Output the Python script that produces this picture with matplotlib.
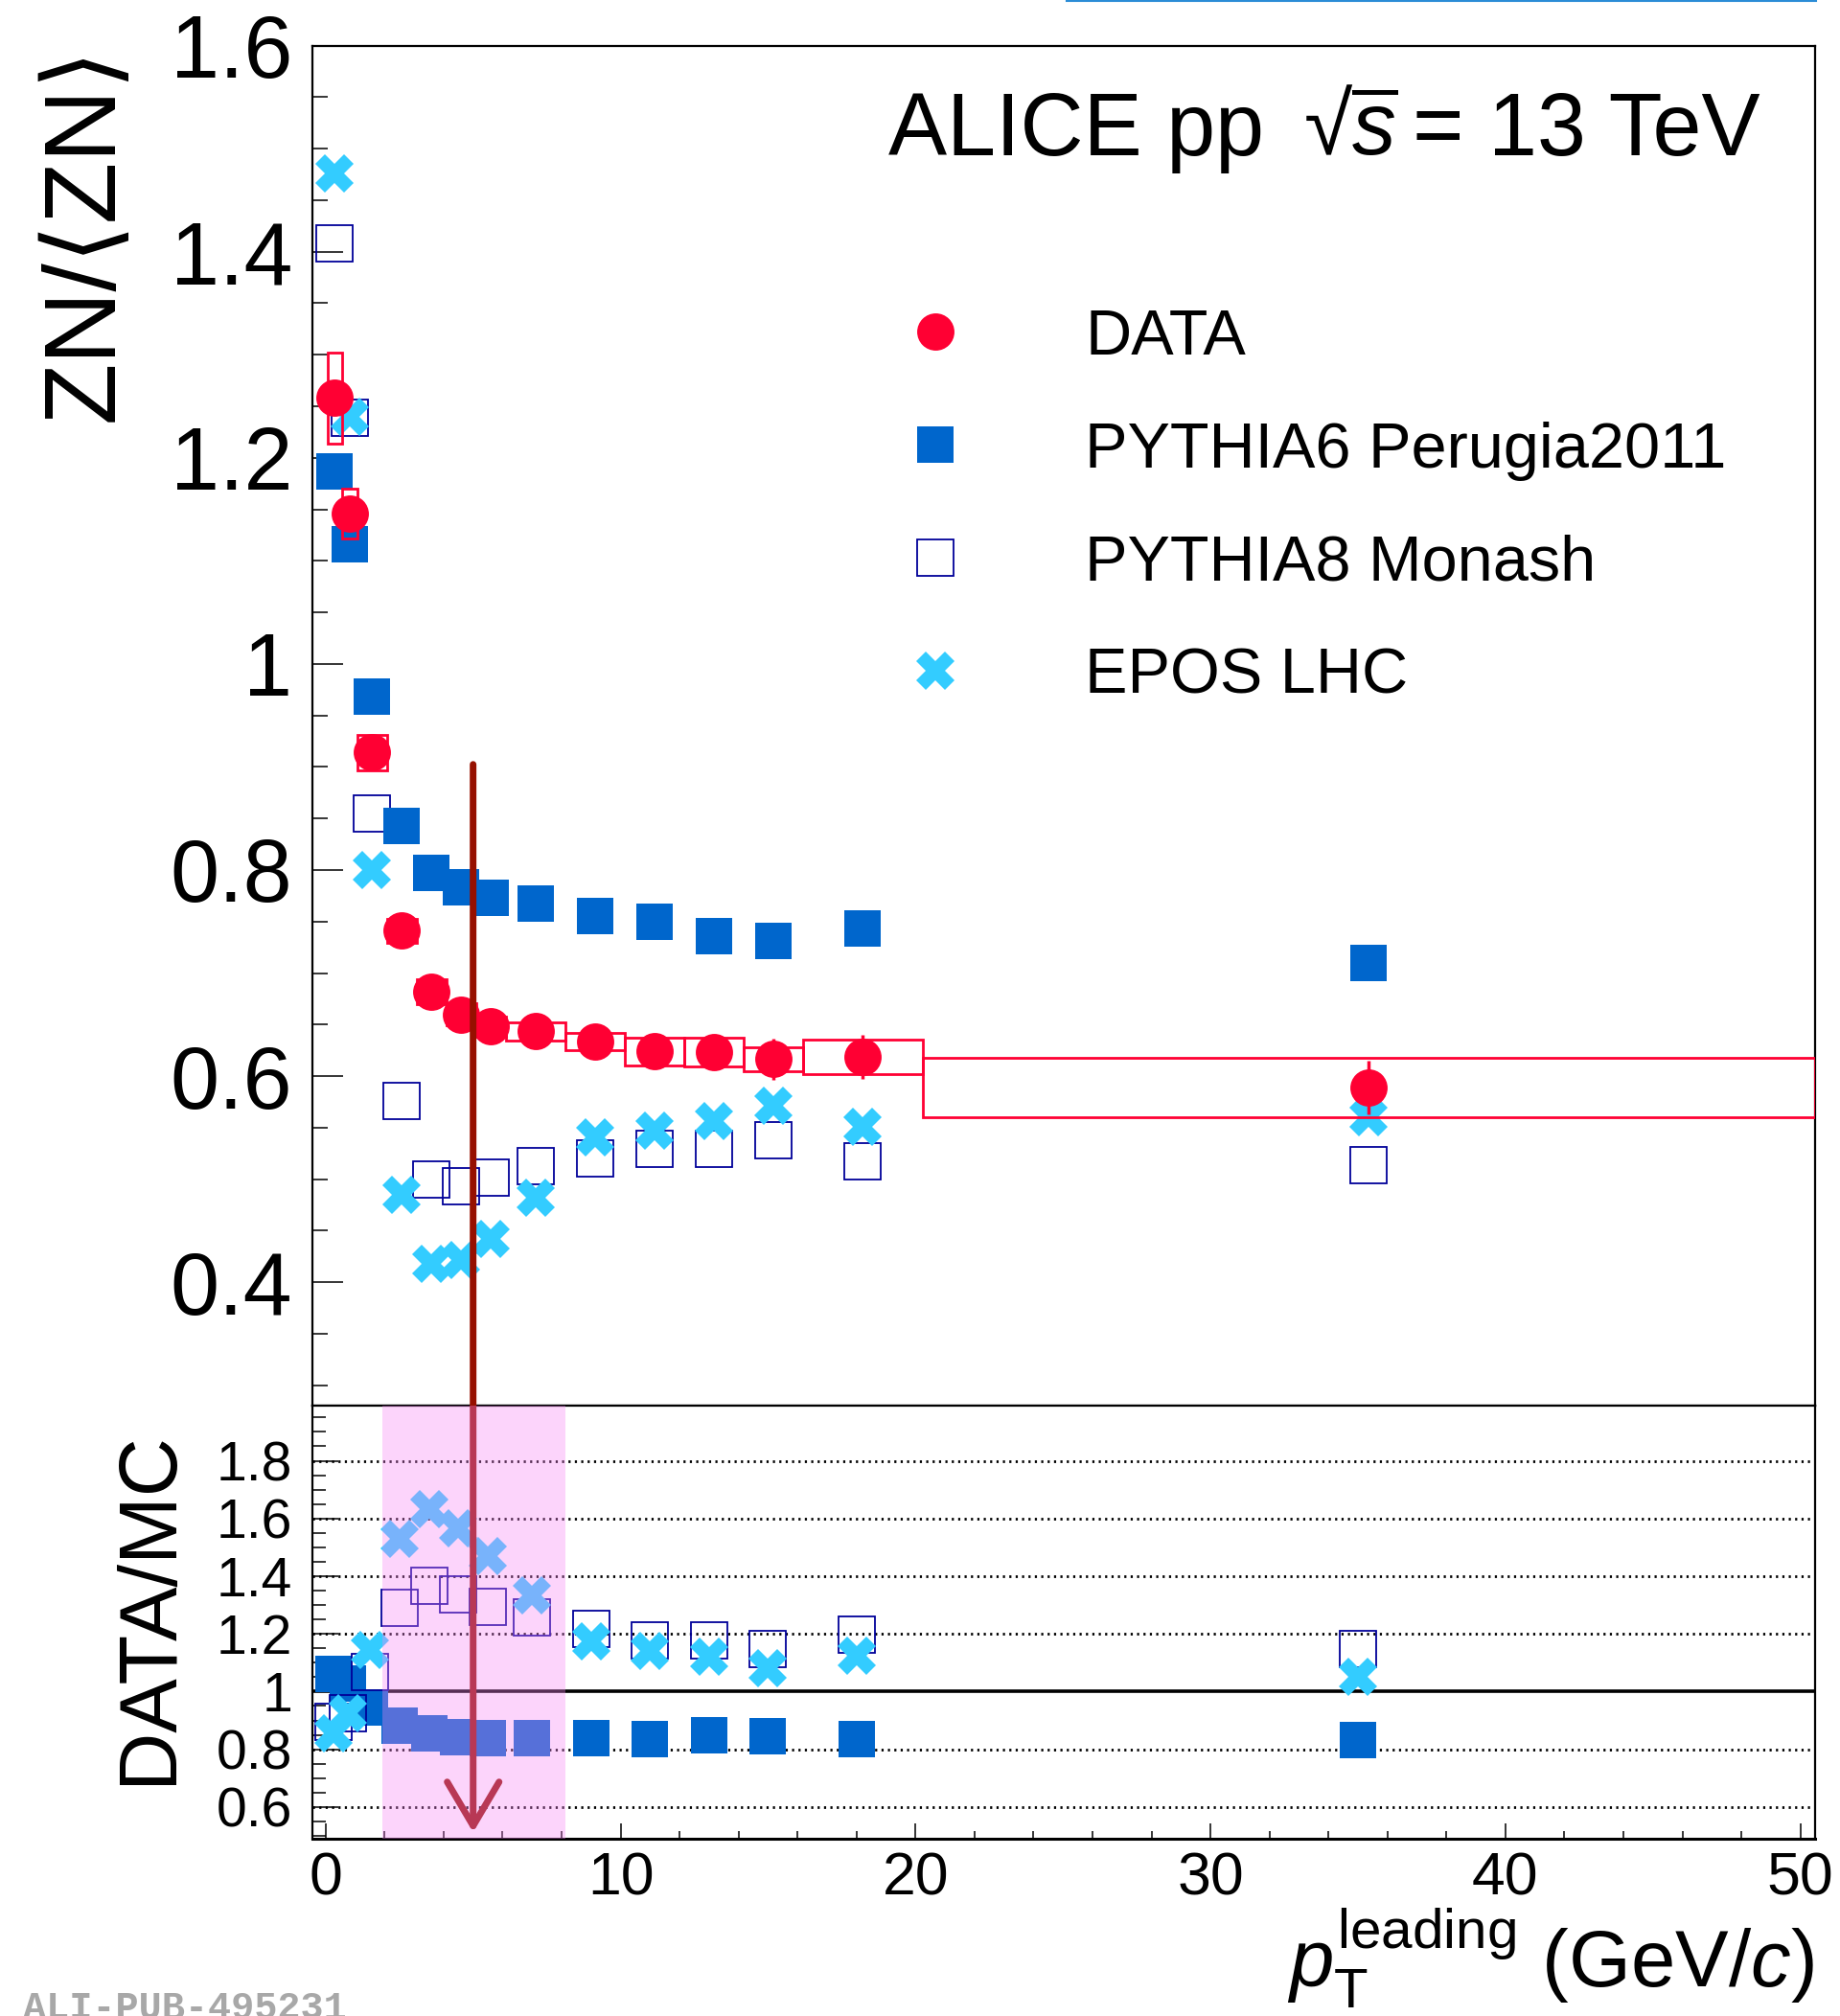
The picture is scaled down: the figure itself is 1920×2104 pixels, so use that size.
import matplotlib
matplotlib.use('Agg')
import matplotlib.pyplot as plt
import matplotlib.ticker as ticker
import matplotlib.transforms as mtransforms
from matplotlib.lines import Line2D
from matplotlib.patches import ConnectionPatch, Rectangle

plt.rcParams['font.family'] = ['Liberation Sans', 'DejaVu Sans']
plt.rcParams['mathtext.fontset'] = 'custom'
plt.rcParams['mathtext.rm'] = 'Liberation Sans'
plt.rcParams['mathtext.it'] = 'Liberation Sans:italic'
plt.rcParams['mathtext.bf'] = 'Liberation Sans:bold'

# pT(leading) bins, GeV/c
bin_lo = [0, 0.5, 1, 2, 3, 4, 5, 6, 8, 10, 12, 14, 16, 20]
bin_hi = [0.5, 1, 2, 3, 4, 5, 6, 8, 10, 12, 14, 16, 20, 50]
pt = [0.25, 0.75, 1.5, 2.5, 3.5, 4.5, 5.5, 7, 9, 11, 13, 15, 18, 35]

# ZN/<ZN>
data = [1.258, 1.146, 0.914, 0.741, 0.682, 0.660, 0.648, 0.6435, 0.6336, 0.624, 0.6235, 0.6165, 0.6187, 0.589]
data_stat = [0.005, 0.005, 0.005, 0.005, 0.005, 0.005, 0.006, 0.006, 0.007, 0.009, 0.011, 0.020, 0.0215, 0.026]
data_syst = [0.044, 0.024, 0.017, 0.012, 0.012, 0.011, 0.010, 0.009, 0.008, 0.0135, 0.014, 0.0113, 0.0168, 0.0287]
pythia6 = [1.1865, 1.1163, 0.9684, 0.843, 0.797, 0.7836, 0.7732, 0.7674, 0.7557, 0.7494, 0.7363, 0.7313, 0.7435, 0.710]
pythia8 = [1.408, 1.2387, 0.8552, 0.5755, 0.4997, 0.4935, 0.5016, 0.5124, 0.5205, 0.5295, 0.5295, 0.5376, 0.5173, 0.5133]
epos = [1.4757, 1.240, 0.7998, 0.4845, 0.4178, 0.4214, 0.4416, 0.4822, 0.5407, 0.5475, 0.5565, 0.5714, 0.5511, 0.5598]

# DATA/MC
ratio_p6 = [1.062, 1.027, 0.944, 0.881, 0.855, 0.843, 0.839, 0.840, 0.840, 0.834, 0.847, 0.844, 0.834, 0.832]
ratio_p8 = [0.895, 0.925, 1.069, 1.290, 1.366, 1.338, 1.293, 1.258, 1.218, 1.179, 1.178, 1.148, 1.197, 1.149]
ratio_epos = [0.854, 0.926, 1.145, 1.531, 1.634, 1.565, 1.468, 1.334, 1.174, 1.141, 1.121, 1.080, 1.124, 1.051]
ratio_grid = [0.6, 0.8, 1.2, 1.4, 1.6, 1.8]

# hand-drawn annotation (highlight band + arrow)
highlight_x = (1.93, 8.13)
arrow_start = (4.9, 0.9025)   # top panel coords
arrow_end = (5.0, 0.512)      # ratio panel coords

RED = '#FF0033'
BLUE = '#0066CC'
NAVY = '#000099'
CYAN = '#33CCFF'
MS = 28

fig = plt.figure(figsize=(19.2, 21.04), dpi=100)
ax1 = fig.add_axes([0.16979, 0.30261, 0.81667, 0.67481])
ax2 = fig.add_axes([0.16979, 0.08793, 0.81667, 0.21468])

#---- top panel
widths = [h - l for l, h in zip(bin_lo, bin_hi)]
bottoms = [d - s for d, s in zip(data, data_syst)]
heights = [2 * s for s in data_syst]
ax1.bar(bin_lo, heights, width=widths, bottom=bottoms, align='edge', fill=False,
        edgecolor=RED, linewidth=2, zorder=5.5)
ax1.plot(pt, pythia8, 's', ms=MS, mfc='none', mec=NAVY, mew=1.3, zorder=3)
ax1.plot(pt, pythia6, 's', ms=MS, color=BLUE, mew=0, zorder=4)
ax1.plot(pt, epos, 'X', ms=29, color=CYAN, mew=0, zorder=5)
ax1.errorbar(pt, data, yerr=data_stat, fmt='o', ms=MS, color=RED, mew=0,
             elinewidth=2.5, capsize=0, zorder=6)

ax1.set_xlim(-0.5, 50.0)
ax1.set_ylim(0.28, 1.6)
ax1.yaxis.set_major_locator(ticker.MultipleLocator(0.2))
ax1.yaxis.set_minor_locator(ticker.MultipleLocator(0.05))
ax1.yaxis.set_major_formatter(ticker.FuncFormatter(lambda v, p: f'{v:g}'))
ax1.tick_params(axis='x', which='both', bottom=False, labelbottom=False)
ax1.tick_params(axis='y', which='both', direction='in', left=True, right=False,
                width=1.1, labelsize=66, pad=15)
ax1.tick_params(axis='y', which='major', length=23)
ax1.tick_params(axis='y', which='minor', length=11.5)
for s in ax1.spines.values():
    s.set_linewidth(1.6)

handles = [Line2D([], [], ls='none', marker='o', ms=MS, color=RED, mew=0),
           Line2D([], [], ls='none', marker='s', ms=MS, color=BLUE, mew=0),
           Line2D([], [], ls='none', marker='s', ms=MS, mfc='none', mec=NAVY, mew=1.3),
           Line2D([], [], ls='none', marker='X', ms=29, color=CYAN, mew=0)]
labels = ['DATA', 'PYTHIA6 Perugia2011', 'PYTHIA8 Monash', 'EPOS LHC']
ax1.legend(handles, labels, loc='upper left', bbox_to_anchor=(0.3931, 0.807),
           frameon=False, fontsize=48, handlelength=1.0, handletextpad=1.85,
           labelspacing=0.84, borderpad=0, borderaxespad=0)

#---- ratio panel
for g in ratio_grid:
    ax2.axhline(g, color='black', lw=2.0, ls=(0, (0.8, 1.6)), zorder=1)
ax2.axhline(1.0, color='black', lw=2.6, zorder=1.5)
ax2.plot(pt, ratio_p6, 's', ms=MS, color=BLUE, mew=0, zorder=3)
ax2.plot(pt, ratio_p8, 's', ms=MS, mfc='none', mec=NAVY, mew=1.3, zorder=4)
ax2.plot(pt, ratio_epos, 'X', ms=29, color=CYAN, mew=0, zorder=5)

ax2.set_xlim(-0.45, 50.5)
ax2.set_ylim(0.49, 1.99)
ax2.xaxis.set_major_locator(ticker.MultipleLocator(10))
ax2.xaxis.set_minor_locator(ticker.MultipleLocator(2))
ax2.yaxis.set_major_locator(ticker.MultipleLocator(0.2))
ax2.yaxis.set_minor_locator(ticker.MultipleLocator(0.05))
ax2.yaxis.set_major_formatter(ticker.FuncFormatter(lambda v, p: f'{v:g}'))
ax2.tick_params(axis='both', which='both', direction='in', top=False, right=False, width=1.1)
ax2.tick_params(axis='y', which='major', length=19.5, labelsize=41, pad=15)
ax2.tick_params(axis='y', which='minor', length=10)
ax2.tick_params(axis='x', which='major', length=11.5, labelsize=45, pad=9)
ax2.tick_params(axis='x', which='minor', length=5.8)
for s in ax2.spines.values():
    s.set_linewidth(1.6)
ax2.spines['bottom'].set_linewidth(2.2)

#---- texts
W, H = 1920, 2104
fig.text(927 / W, 1 - 162 / H, 'ALICE pp', fontsize=66, ha='left', va='baseline')
fig.text(1360 / W, 1 - 162 / H, '\u221a$\\overline{s}$', fontsize=66, ha='left', va='baseline')
fig.text(1837 / W, 1 - 162 / H, '= 13 TeV', fontsize=66, ha='right', va='baseline')
fig.text(0.0469, 1 - 47 / H, 'ZN/\u27e8ZN\u27e9', fontsize=76, rotation=90, ha='center', va='top')
fig.text(0.0813, 0.2025, 'DATA/MC', fontsize=61, rotation=90, ha='center', va='center')
fig.text(1893 / W, 1 - 2074 / H, r'$p_{\mathrm{T}}^{\mathrm{leading}}$ (GeV/$c$)',
         fontsize=60, ha='right', va='baseline')
fig.text(24 / W, 1 - 2077 / H, 'ALI-PUB-495231', fontsize=29, family='Liberation Mono',
         weight='bold', color='#A8A8A8', ha='left', va='top')

#---- annotation overlay
arrow = ConnectionPatch(xyA=arrow_start, coordsA=ax1.transData,
                        xyB=arrow_end, coordsB=ax2.transData,
                        arrowstyle='->,head_length=1.1,head_width=0.65', mutation_scale=30,
                        color='#961000', lw=5, capstyle='round', zorder=10)
fig.add_artist(arrow)
band = Rectangle((highlight_x[0], 0), highlight_x[1] - highlight_x[0], 1,
                 transform=mtransforms.blended_transform_factory(ax2.transData, ax2.transAxes),
                 facecolor='#F985F4', alpha=0.35, edgecolor='none', zorder=11)
fig.add_artist(band)
fig.add_artist(Line2D([1113 / W, 1895 / W], [0.9996, 0.9996], color='#2B8CD6', lw=1.5))

fig.savefig('out.png', dpi=100)
